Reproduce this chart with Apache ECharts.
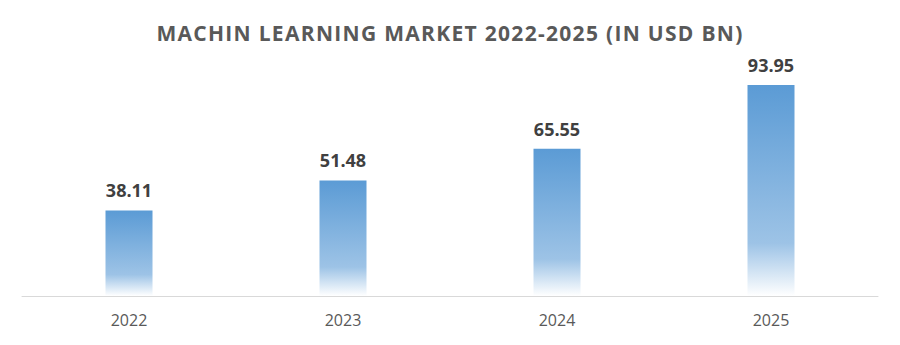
<!DOCTYPE html>
<html><head><meta charset="utf-8">
<script src="https://cdn.jsdelivr.net/npm/echarts@6/dist/echarts.min.js"></script>
<style>html,body{margin:0;padding:0;background:#fff}#c{width:900px;height:345px}
#c svg text[style*="21px"]{letter-spacing:1.3px}</style>
</head><body><div id="c"></div>
<script>
var categories = ['2022', '2023', '2024', '2025'];
var values = [38.11, 51.48, 65.55, 93.95];
var titleText = 'MACHIN LEARNING MARKET 2022-2025 (IN USD BN)';

var chart = echarts.init(document.getElementById('c'), null, {renderer: 'svg'});
chart.setOption({
  animation: false,
  title: {
    text: titleText, left: 'center', top: 17,
    textStyle: {fontFamily: 'Open Sans', fontWeight: 'bold', fontSize: 21, color: '#595959'}
  },
  grid: {left: 22, right: 22, top: 71.4, bottom: 49},
  xAxis: {
    type: 'category', data: categories,
    axisLine: {lineStyle: {color: '#d9d9d9', width: 1}},
    axisTick: {show: false},
    axisLabel: {fontFamily: 'Open Sans', fontSize: 16, color: '#595959', margin: 16}
  },
  yAxis: {type: 'value', min: 0, max: 100, show: false, splitLine: {show: false}},
  series: [{
    type: 'bar', data: values, barWidth: 47,
    itemStyle: {
      color: new echarts.graphic.LinearGradient(0, 0, 0, 1, [
        {offset: 0, color: '#5b9bd5'},
        {offset: 0.75, color: '#9dc3e6'},
        {offset: 1, color: '#ffffff'}
      ])
    },
    label: {
      show: true, position: 'top', distance: 11,
      fontFamily: 'Open Sans', fontWeight: 'bold', fontSize: 18, color: '#404040',
      formatter: function (p) { return p.value.toFixed(2); }
    }
  }]
});
</script></body></html>
